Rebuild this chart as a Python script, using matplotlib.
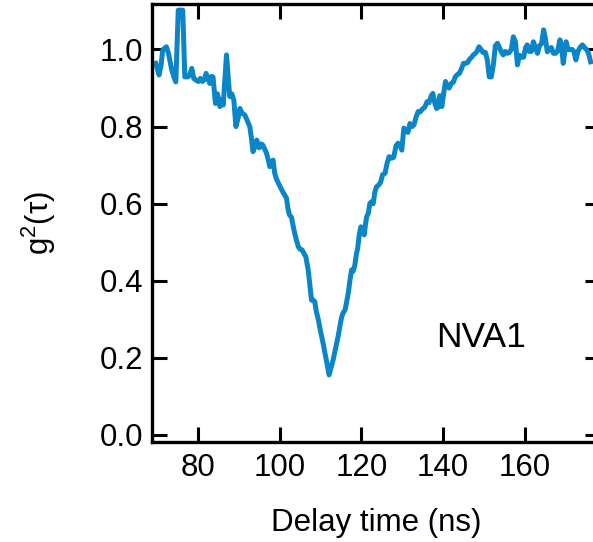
import matplotlib
matplotlib.use("Agg")
import matplotlib.pyplot as plt

delay = [
    69.7, 70.5, 71.0, 71.4, 72.3, 72.8, 73.6, 74.1, 74.6, 75.2,
    76.3, 76.8, 77.6, 78.0, 78.5, 79.0, 79.6, 80.1, 80.6, 81.1,
    81.6, 82.0, 82.5, 82.9, 83.3, 83.7, 84.3, 84.8, 85.4, 85.8,
    86.2, 87.0, 87.8, 88.3, 88.8, 89.3, 89.8, 90.3, 90.8, 91.5,
    92.1, 92.7, 93.1, 93.5, 94.0, 94.4, 95.0, 95.5, 95.9, 96.4,
    96.8, 97.2, 97.6, 98.0, 98.4, 98.8, 99.2, 99.7, 100.1, 100.5,
    101.1, 101.7, 102.0, 102.4, 102.9, 103.5, 104.0, 104.6, 105.0, 105.5,
    106.0, 106.4, 107.0, 107.4, 107.8, 108.2, 108.6, 109.0, 109.5, 109.9,
    110.3, 110.7, 111.1, 111.6, 112.1, 112.6, 113.1, 113.7, 114.3, 114.8,
    115.2, 115.6, 116.0, 116.4, 116.8, 117.2, 117.6, 118.0, 118.4, 118.8,
    119.1, 119.5, 119.9, 120.3, 120.7, 121.0, 121.3, 121.7, 122.1, 122.5,
    122.9, 123.3, 123.7, 124.2, 124.7, 125.2, 125.8, 126.3, 126.8, 127.4,
    127.9, 128.5, 129.0, 129.5, 129.9, 130.4, 130.9, 131.4, 131.9, 132.4,
    132.9, 133.4, 133.9, 134.4, 134.9, 135.5, 136.1, 136.6, 137.1, 137.5,
    138.0, 138.4, 138.8, 139.2, 139.7, 140.2, 140.6, 141.0, 141.5, 142.0,
    142.5, 143.0, 143.5, 144.0, 144.5, 145.0, 145.5, 146.0, 146.5, 147.0,
    147.4, 147.9, 148.3, 148.8, 149.3, 149.8, 150.3, 150.8, 151.3, 151.8,
    152.3, 152.8, 153.3, 153.8, 154.2, 154.7, 155.2, 155.7, 156.2, 156.7,
    157.2, 157.7, 158.2, 158.7, 159.2, 159.7, 160.2, 160.6, 161.1, 161.6,
    162.1, 162.6, 163.1, 163.6, 164.1, 164.6, 165.1, 165.5, 166.0, 166.5,
    167.0, 167.5, 168.0, 168.6, 169.1, 169.4, 169.8, 170.1, 170.6, 171.1,
    171.6, 172.0, 172.5, 173.0, 173.5, 174.1, 174.6, 175.1, 175.6, 176.1,
]
g2 = [
    0.964, 0.934, 0.960, 0.999, 1.007, 0.990, 0.947, 0.930, 0.916, 1.102,
    1.102, 0.929, 0.929, 0.935, 0.951, 0.925, 0.920, 0.917, 0.925, 0.917,
    0.922, 0.938, 0.925, 0.912, 0.930, 0.929, 0.860, 0.885, 0.852, 0.870,
    0.856, 0.986, 0.878, 0.885, 0.869, 0.800, 0.820, 0.847, 0.835, 0.830,
    0.815, 0.800, 0.770, 0.735, 0.750, 0.765, 0.745, 0.755, 0.752, 0.740,
    0.731, 0.715, 0.696, 0.705, 0.713, 0.679, 0.665, 0.653, 0.645, 0.636,
    0.625, 0.614, 0.590, 0.571, 0.565, 0.532, 0.510, 0.488, 0.482, 0.480,
    0.470, 0.463, 0.428, 0.390, 0.350, 0.350, 0.346, 0.320, 0.298, 0.275,
    0.255, 0.235, 0.212, 0.185, 0.156, 0.175, 0.195, 0.225, 0.255, 0.285,
    0.307, 0.318, 0.324, 0.345, 0.368, 0.400, 0.428, 0.425, 0.440, 0.470,
    0.484, 0.520, 0.540, 0.530, 0.519, 0.545, 0.566, 0.575, 0.601, 0.605,
    0.600, 0.630, 0.644, 0.648, 0.655, 0.675, 0.679, 0.705, 0.722, 0.718,
    0.720, 0.750, 0.757, 0.750, 0.739, 0.796, 0.790, 0.785, 0.808, 0.800,
    0.805, 0.825, 0.839, 0.838, 0.845, 0.850, 0.865, 0.862, 0.880, 0.886,
    0.860, 0.847, 0.850, 0.880, 0.852, 0.890, 0.917, 0.905, 0.900, 0.912,
    0.915, 0.929, 0.935, 0.938, 0.950, 0.964, 0.964, 0.966, 0.975, 0.980,
    0.986, 0.990, 0.995, 1.007, 1.000, 0.992, 0.993, 0.975, 0.929, 0.929,
    0.960, 1.010, 1.016, 1.005, 0.995, 0.986, 0.995, 0.990, 0.992, 1.000,
    1.033, 1.020, 0.960, 0.985, 0.980, 0.980, 1.005, 1.012, 0.995, 0.995,
    1.020, 1.005, 0.990, 1.010, 1.015, 1.051, 1.025, 0.994, 1.000, 1.005,
    0.990, 0.990, 0.995, 1.025, 1.000, 0.964, 0.995, 1.020, 1.000, 1.000,
    1.000, 0.995, 0.973, 0.995, 1.005, 1.012, 1.005, 1.000, 0.990, 0.968,
]

xticks = [80, 100, 120, 140, 160]
yticks = [0.0, 0.2, 0.4, 0.6, 0.8, 1.0]

plt.rcParams["font.family"] = ["Liberation Sans", "DejaVu Sans"]
plt.rcParams["mathtext.default"] = "regular"

fig = plt.figure(figsize=(5.93, 5.42), dpi=100)
# right spine sits just outside the picture, as in the reference
ax = fig.add_axes([151.7 / 593, 100.3 / 542, 448.3 / 593, 437.7 / 542])

ax.plot(delay, g2, color="#0a86c8", lw=3.6)

ax.set_xlim(68.7, 178.4)
ax.set_ylim(-0.0174, 1.118)
ax.set_xticks(xticks)
ax.set_yticks(yticks)
ax.set_yticklabels([f"{v:.1f}" for v in yticks])

for s in ax.spines.values():
    s.set_linewidth(2.4)
ax.tick_params(direction="in", length=11, width=2.2, labelsize=22.5,
               top=True, right=True, pad=6)
ax.tick_params(axis="x", pad=8)

ax.set_xlabel("Delay time (ns)", fontsize=22.5, labelpad=18)
ax.set_ylabel(r"g$^2$(τ)", fontsize=22.5, labelpad=30)

ax.text(138.4, 0.2275, "NVA1", fontsize=25.5, ha="left", va="baseline")

fig.savefig("out.png", dpi=100)
